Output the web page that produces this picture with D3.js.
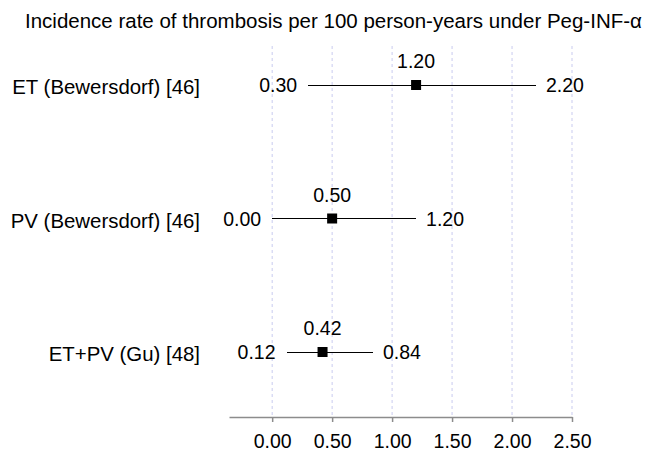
<!DOCTYPE html>
<html>
<head>
<meta charset="utf-8">
<script src="https://cdn.jsdelivr.net/npm/d3@7"></script>
<style>
  html, body { margin: 0; padding: 0; background: #fff; }
  text { font-family: "Liberation Sans", Arial, Helvetica, sans-serif; fill: #000; }
</style>
</head>
<body>
<svg id="chart" width="648" height="453"></svg>
<script>
const titleText = "Incidence rate of thrombosis per 100 person-years under Peg-INF-\u03B1";
const studies = ["ET (Bewersdorf) [46]", "PV (Bewersdorf) [46]", "ET+PV (Gu) [48]"];
const estimates = [1.20, 0.50, 0.42];
const lowers = [0.30, 0.00, 0.12];
const uppers = [2.20, 1.20, 0.84];
const tickValues = [0, 0.5, 1.0, 1.5, 2.0, 2.5];

const rows = studies.map((s, i) => ({ study: s, est: estimates[i], lo: lowers[i], hi: uppers[i] }));

const svg = d3.select("#chart");
const fmt = d3.format(".2f");

const x = d3.scaleLinear().domain([-0.36, 2.5]).range([229, 572]);
const y = d3.scalePoint().domain(studies).range([85, 352]);
const axisY = 417;
const gridTop = 46;

// title
svg.append("text")
  .attr("x", 25).attr("y", 28)
  .attr("font-size", 20.5)
  .text(titleText);

// gridlines
svg.append("g").selectAll("line")
  .data(tickValues)
  .join("line")
  .attr("x1", d => x(d)).attr("x2", d => x(d))
  .attr("y1", gridTop).attr("y2", axisY)
  .attr("stroke", "#c9cbef")
  .attr("stroke-width", 1)
  .attr("stroke-dasharray", "3,3");

// axis
const axis = d3.axisBottom(x).tickValues(tickValues).tickFormat(fmt).tickSize(5).tickSizeOuter(0).tickPadding(12);
const gAxis = svg.append("g").attr("transform", `translate(0,${axisY})`).call(axis);
gAxis.select(".domain").attr("stroke", "#8c8c8c").attr("stroke-width", 1.5);
gAxis.selectAll(".tick line").attr("stroke", "#8c8c8c").attr("stroke-width", 1.5);
gAxis.selectAll(".tick text")
  .attr("font-size", 19.5)
  .attr("font-family", "Liberation Sans, Arial, sans-serif")
  .attr("fill", "#000");

const g = svg.append("g");

// row labels
g.selectAll("text.study")
  .data(rows)
  .join("text")
  .attr("class", "study")
  .attr("x", 200)
  .attr("y", d => y(d.study) + 9)
  .attr("text-anchor", "end")
  .attr("font-size", 20.4)
  .text(d => d.study);

// CI lines
g.selectAll("line.ci")
  .data(rows)
  .join("line")
  .attr("class", "ci")
  .attr("x1", d => x(d.lo)).attr("x2", d => x(d.hi))
  .attr("y1", d => y(d.study)).attr("y2", d => y(d.study))
  .attr("stroke", "#000")
  .attr("stroke-width", 1)
  .attr("shape-rendering", "crispEdges");

// markers
const ms = 10;
g.selectAll("rect.pt")
  .data(rows)
  .join("rect")
  .attr("class", "pt")
  .attr("x", d => x(d.est) - ms / 2)
  .attr("y", d => y(d.study) - ms / 2)
  .attr("width", ms).attr("height", ms)
  .attr("fill", "#000");

// lower labels
g.selectAll("text.lo")
  .data(rows)
  .join("text")
  .attr("class", "lo")
  .attr("x", d => x(d.lo) - 11)
  .attr("y", d => y(d.study) + 7)
  .attr("text-anchor", "end")
  .attr("font-size", 19.5)
  .text(d => fmt(d.lo));

// upper labels
g.selectAll("text.hi")
  .data(rows)
  .join("text")
  .attr("class", "hi")
  .attr("x", d => x(d.hi) + 10)
  .attr("y", d => y(d.study) + 7)
  .attr("text-anchor", "start")
  .attr("font-size", 19.5)
  .text(d => fmt(d.hi));

// estimate labels
g.selectAll("text.est")
  .data(rows)
  .join("text")
  .attr("class", "est")
  .attr("x", d => x(d.est))
  .attr("y", d => y(d.study) - 17)
  .attr("text-anchor", "middle")
  .attr("font-size", 19.5)
  .text(d => fmt(d.est));
</script>
</body>
</html>
